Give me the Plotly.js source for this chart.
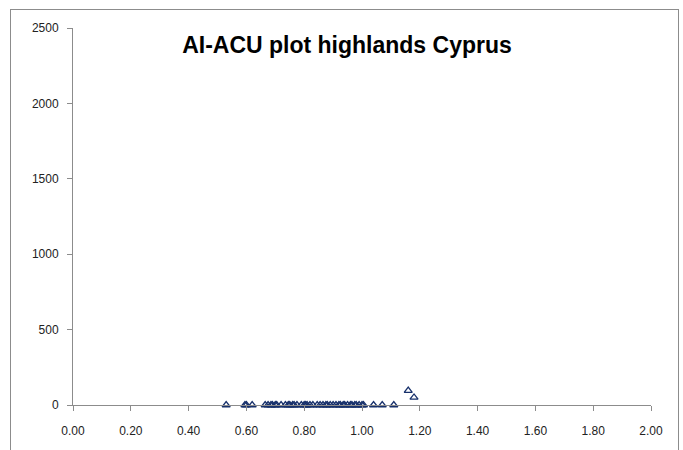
<!DOCTYPE html>
<html>
<head>
<meta charset="utf-8">
<script src="https://cdn.plot.ly/plotly-3.0.1.min.js"></script>
<style>
html,body{margin:0;padding:0;background:#fff;}
#wrap{position:relative;width:683px;height:450px;overflow:hidden;}
#chart{position:absolute;left:0;top:0;width:683px;height:450px;}
#frame{position:absolute;left:10px;top:9px;width:667px;height:460px;border:1px solid #8c8c8c;pointer-events:none;}
</style>
</head>
<body>
<div id="wrap"><div id="chart"></div><div id="frame"></div></div>
<script>
// AI values (x) and ACU values (y)
const aiValues = [0.53, 0.595, 0.60, 0.62, 0.665, 0.675, 0.685, 0.69, 0.70, 0.705, 0.72, 0.735, 0.745, 0.75, 0.76, 0.765, 0.775, 0.79, 0.80, 0.805, 0.81, 0.82, 0.83, 0.845, 0.855, 0.865, 0.875, 0.88, 0.89, 0.90, 0.91, 0.92, 0.925, 0.935, 0.94, 0.95, 0.96, 0.965, 0.975, 0.98, 0.99, 1.00, 1.005, 1.04, 1.07, 1.11, 1.16, 1.18];
const acuValues = [0, 0, 0, 0, 0, 0, 0, 0, 0, 0, 0, 0, 0, 0, 0, 0, 0, 0, 0, 0, 0, 0, 0, 0, 0, 0, 0, 0, 0, 0, 0, 0, 0, 0, 0, 0, 0, 0, 0, 0, 0, 0, 0, 0, 0, 0, 95, 50];
const chartTitle = "AI-ACU plot highlands Cyprus";

const trace = {
  x: aiValues, y: acuValues, type: 'scatter', mode: 'markers',
  marker: {symbol: 'triangle-up-open', size: 7, color: '#17306b', line: {width: 1.3, color: '#17306b'}},
  hoverinfo: 'x+y', showlegend: false, cliponaxis: false
};
const axFont = {family: 'Liberation Sans, Arial, sans-serif', size: 12, color: '#222'};
const layout = {
  width: 683, height: 450,
  margin: {l: 73, r: 32, t: 28, b: 45},
  paper_bgcolor: '#fff', plot_bgcolor: '#fff',
  title: {text: '<b>' + chartTitle + '</b>', x: 0.508, xanchor: 'center', y: 0.9, yanchor: 'middle',
          font: {family: 'Liberation Sans, Arial, sans-serif', size: 23, color: '#000'}},
  xaxis: {range: [0, 2], dtick: 0.2, tick0: 0, tickformat: '.2f', showgrid: false, zeroline: false,
          showline: true, linecolor: '#8c8c8c', linewidth: 1, ticks: 'outside', ticklen: 5, tickcolor: '#8c8c8c',
          ticklabelstandoff: 10, tickfont: axFont, fixedrange: true},
  yaxis: {range: [0, 2500], dtick: 500, tick0: 0, showgrid: false, zeroline: false,
          showline: true, linecolor: '#8c8c8c', linewidth: 1, ticks: 'outside', ticklen: 5, tickcolor: '#8c8c8c',
          ticklabelstandoff: 6, tickfont: axFont, fixedrange: true}
};
Plotly.newPlot('chart', [trace], layout, {displayModeBar: false, staticPlot: true});
</script>
</body>
</html>
